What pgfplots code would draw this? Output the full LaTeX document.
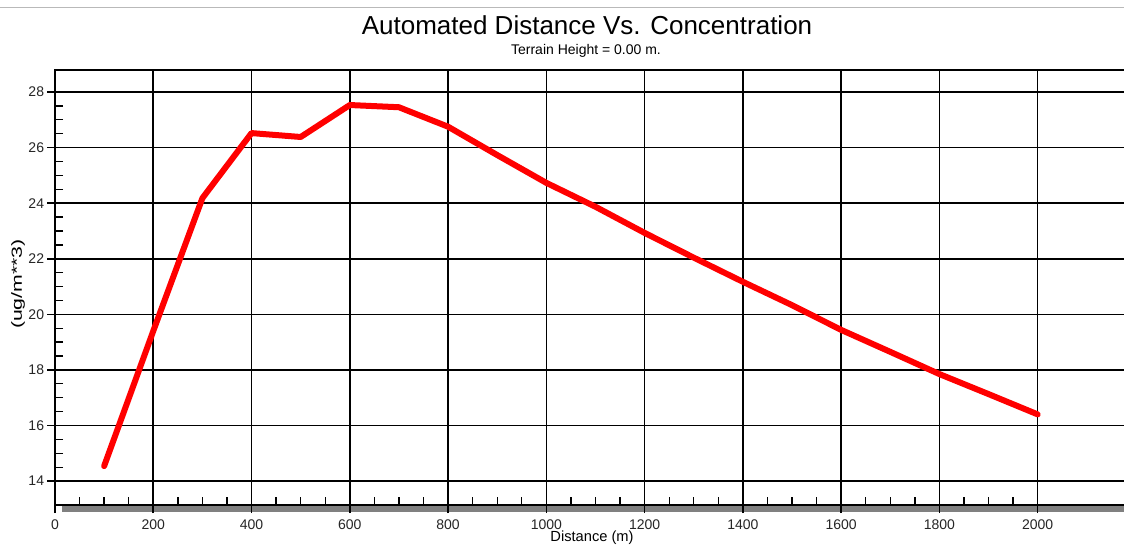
\documentclass[border=0pt]{standalone}
\usepackage{fontspec}
\setmainfont{Liberation Sans}
\usepackage{pgfplots}
\pgfplotsset{compat=1.18}
\begin{document}
\begin{tikzpicture}[x=0.75pt,y=0.75pt]
\path[use as bounding box] (0,0) rectangle (1124,547);
\clip (0,0) rectangle (1124,547);
\fill[white] (0,0) rectangle (1124,547);
\draw[gray!55, line width=1.2pt] (0,539.5) -- (1124,539.5);
\fill[black!50] (62,35) rectangle (1130,41);
\coordinate (O) at (55,42);
\begin{axis}[
  at={(O)}, anchor=south west,
  scale only axis, width=806.25pt, height=326.25pt,
  xmin=0, xmax=2187.9, ymin=13.14, ymax=28.79,
  xtick={0,200,...,2000}, ytick={14,16,...,28},
  minor x tick num=3, minor y tick num=3,
  tick pos=left,
  tick align=outside,
  major tick length=6pt, minor tick length=-6pt,
  grid=major,
  major grid style={black, line width=1.2pt},
  major tick style={black, line width=1.2pt},
  minor tick style={black, line width=1.0pt},
  axis line style={black, line width=1.6pt},
  /pgf/number format/assume math mode=true,
  /pgf/number format/1000 sep={},
  tick label style={font=\fontsize{10.5}{12}\selectfont, text=black!85},
  yticklabel style={inner sep=0pt, xshift=-2pt},
  xticklabel style={inner sep=0pt, yshift=-4.5pt},
]
\addplot[red, line width=4.5pt, line join=round, line cap=round] coordinates {
(100,14.54) (200,19.4) (300,24.18) (400,26.52) (500,26.38) (600,27.53)
(700,27.45) (800,26.75) (900,25.73) (1000,24.73) (1100,23.87) (1200,22.93)
(1300,22.04) (1400,21.17) (1500,20.33) (1600,19.44) (1700,18.65) (1800,17.85)
(1900,17.13) (2000,16.40)
};
\end{axis}
\node[anchor=base, font=\fontsize{19.5}{23}\selectfont] at (587,512) {Automated Distance Vs. Concentration};
\node[anchor=base, font=\fontsize{10.5}{12}\selectfont] at (586,492) {Terrain Height = 0.00 m.};
\node[anchor=south, inner sep=0pt, font=\fontsize{11}{13}\selectfont] at (592,2) {Distance (m)};
\node[rotate=90, font=\fontsize{11}{13}\selectfont] at (18,263) {\scalebox{1.45}[1]{(ug/m**3)}};
\end{tikzpicture}
\end{document}
